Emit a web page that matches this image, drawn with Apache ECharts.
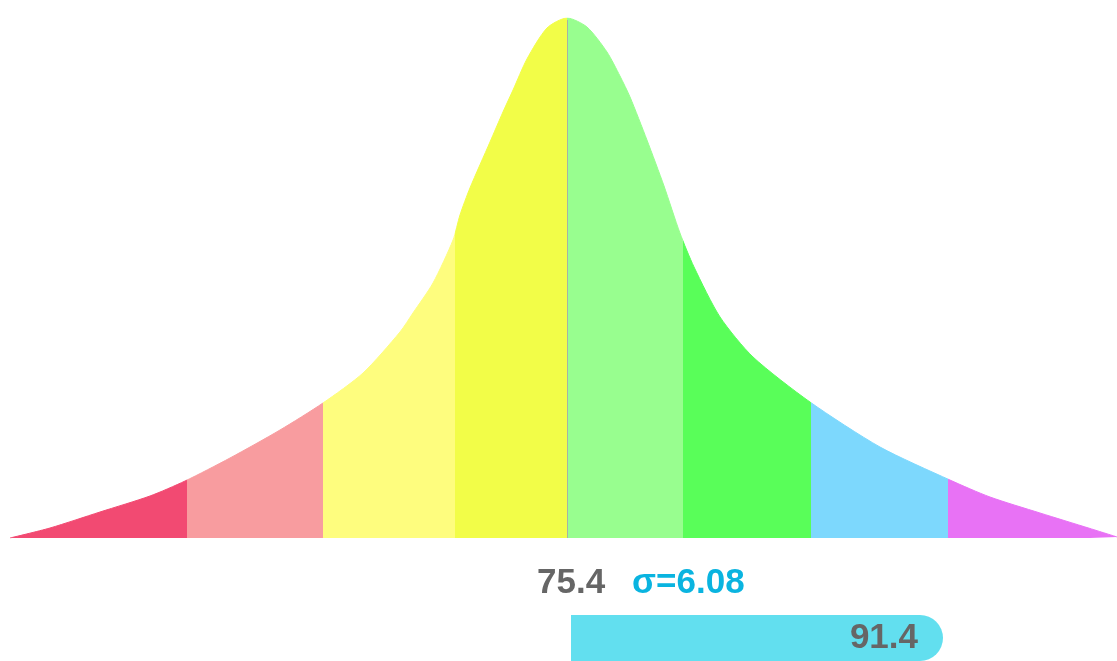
<!DOCTYPE html>
<html><head><meta charset="utf-8">
<script src="https://cdn.jsdelivr.net/npm/echarts@6/dist/echarts.min.js"></script>
<style>html,body{margin:0;padding:0;background:#fff}#c{width:1117px;height:661px}</style>
</head><body><div id="c"></div>
<script>
// Curve samples: position along the distribution (0..100) and relative height (0..100)
const curveX = [0, 3.61, 8.13, 12.65, 15.81, 19.87, 24.39, 28.27, 31.89, 35.23, 36.40, 38.21, 40.02, 40.65, 41.55, 43.36, 44.53, 45.44, 46.70, 48.51, 50.32, 52.12, 53.93, 55.10, 56.01, 57.54, 59.08, 60.52, 61.79, 64.14, 67.12, 72.27, 78.59, 84.91, 88.53, 93.04, 97.56, 100];
const curveY = [0, 1.92, 5.00, 8.08, 10.96, 15.38, 20.77, 25.96, 31.73, 39.62, 43.27, 49.04, 57.31, 62.12, 67.31, 76.15, 81.92, 86.15, 92.12, 98.08, 100, 98.27, 93.46, 88.85, 84.81, 76.54, 67.69, 58.65, 52.12, 42.50, 34.81, 26.15, 17.50, 11.15, 7.88, 4.81, 1.83, 0.2];
// Band boundaries along the same axis and band colours
const bandEdges = [0, 15.99, 28.27, 40.20, 50.32, 60.80, 72.37, 84.73, 100];
const bandColors = ['#F24A72', '#F89C9F', '#FEFD7E', '#F2FD48', '#98FE8F', '#59FE59', '#7DD8FD', '#E872F5'];
const meanValue = '75.4';
const sigmaValue = '6.08';
const meanPos = 50.32;
const scoreValue = 91.4;

const pieces = [];
for (let i = 0; i < bandColors.length; i++) {
  pieces.push({ gte: bandEdges[i], lt: bandEdges[i + 1], color: bandColors[i] });
}
pieces[0].gte = -1000;
delete pieces[pieces.length - 1].lt;
pieces[pieces.length - 1].lte = 1000;

const curveData = curveX.map((x, i) => [x, curveY[i]]);
const font = '"Liberation Sans", Arial, Helvetica, sans-serif';

const chart = echarts.init(document.getElementById('c'));
chart.setOption({
  animation: false,
  backgroundColor: '#fff',
  title: {
    left: 537, top: 566, padding: 0,
    text: '{a|' + meanValue + '}{b|σ=' + sigmaValue + '}',
    textStyle: {
      rich: {
        a: { fontFamily: font, fontWeight: 'bold', fontSize: 35, color: '#666666' },
        b: { fontFamily: font, fontWeight: 'bold', fontSize: 35, color: '#0AB4E0', padding: [0, 0, 0, 27] }
      }
    }
  },
  grid: [
    { left: 10, right: 0, top: 18, bottom: 123 },
    { left: 571, width: 407, top: 615, height: 60 }
  ],
  xAxis: [
    { type: 'value', gridIndex: 0, min: 0, max: 100, show: false },
    { type: 'value', gridIndex: 1, min: 0, max: 100, show: false }
  ],
  yAxis: [
    { type: 'value', gridIndex: 0, min: 0, max: 100, show: false },
    { type: 'category', gridIndex: 1, data: ['score'], show: false }
  ],
  visualMap: {
    type: 'piecewise', show: false, dimension: 0, seriesIndex: 0,
    pieces: pieces
  },
  series: [
    {
      type: 'line', xAxisIndex: 0, yAxisIndex: 0,
      data: curveData, smooth: 0.25, showSymbol: false,
      lineStyle: { width: 1 },
      areaStyle: { opacity: 1 },
      markLine: {
        silent: true, symbol: 'none', label: { show: false },
        lineStyle: { color: 'rgba(170,160,170,0.8)', width: 1, type: 'solid' },
        data: [[{ coord: [meanPos, 0] }, { coord: [meanPos, 99.6] }]]
      }
    },
    {
      type: 'bar', xAxisIndex: 1, yAxisIndex: 1,
      data: [scoreValue], barWidth: 58,
      itemStyle: { color: '#62DFEF', borderRadius: [0, 26, 26, 0] },
      label: {
        show: true, position: 'insideRight', distance: 25,
        fontFamily: font, fontWeight: 'bold', fontSize: 35, color: '#666666',
        formatter: '{c}'
      }
    }
  ]
});
</script></body></html>
